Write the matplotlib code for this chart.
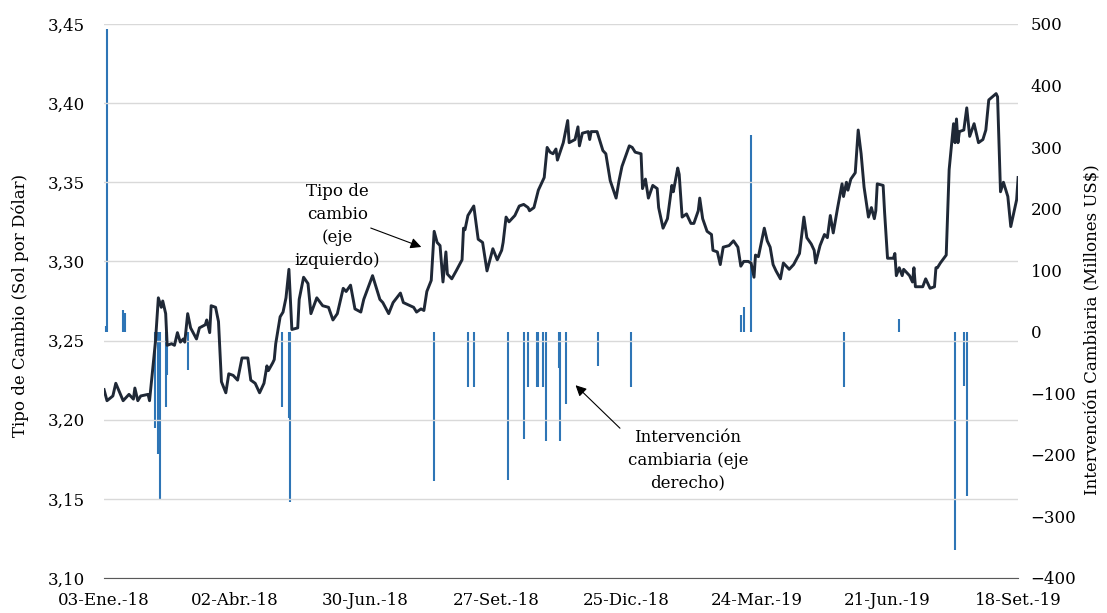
import matplotlib.pyplot as plt
import matplotlib.ticker as mticker
import numpy as np
import pandas as pd

# Tipo de cambio (eje izquierdo)
tc_fechas = [
    '2018-01-03', '2018-01-05', '2018-01-09', '2018-01-11', '2018-01-16', '2018-01-20',
    '2018-01-23', '2018-01-24', '2018-01-26', '2018-01-28', '2018-02-02', '2018-02-03',
    '2018-02-07', '2018-02-09', '2018-02-11', '2018-02-12', '2018-02-14', '2018-02-15',
    '2018-02-18', '2018-02-20', '2018-02-22', '2018-02-24', '2018-02-26', '2018-02-27',
    '2018-03-01', '2018-03-03', '2018-03-07', '2018-03-09', '2018-03-13', '2018-03-14',
    '2018-03-16', '2018-03-17', '2018-03-20', '2018-03-22', '2018-03-24', '2018-03-27',
    '2018-03-29', '2018-04-01', '2018-04-04', '2018-04-07', '2018-04-11', '2018-04-13',
    '2018-04-16', '2018-04-19', '2018-04-22', '2018-04-24', '2018-04-25', '2018-04-28',
    '2018-04-29', '2018-04-30', '2018-05-03', '2018-05-05', '2018-05-07', '2018-05-09',
    '2018-05-11', '2018-05-15', '2018-05-16', '2018-05-19', '2018-05-22', '2018-05-24',
    '2018-05-28', '2018-06-01', '2018-06-05', '2018-06-08', '2018-06-11', '2018-06-15',
    '2018-06-17', '2018-06-20', '2018-06-23', '2018-06-27', '2018-06-29', '2018-07-05',
    '2018-07-10', '2018-07-12', '2018-07-16', '2018-07-19', '2018-07-24', '2018-07-26',
    '2018-08-02', '2018-08-04', '2018-08-07', '2018-08-09', '2018-08-11', '2018-08-14',
    '2018-08-16', '2018-08-18', '2018-08-20', '2018-08-22', '2018-08-24', '2018-08-25',
    '2018-08-28', '2018-08-31', '2018-09-04', '2018-09-05', '2018-09-06', '2018-09-08',
    '2018-09-12', '2018-09-15', '2018-09-18', '2018-09-21', '2018-09-25', '2018-09-28',
    '2018-10-01', '2018-10-02', '2018-10-04', '2018-10-06', '2018-10-10', '2018-10-13',
    '2018-10-16', '2018-10-19', '2018-10-20', '2018-10-23', '2018-10-26', '2018-10-30',
    '2018-11-01', '2018-11-03', '2018-11-05', '2018-11-07', '2018-11-08', '2018-11-12',
    '2018-11-15', '2018-11-16', '2018-11-20', '2018-11-22', '2018-11-23', '2018-11-25',
    '2018-11-29', '2018-11-30', '2018-12-01', '2018-12-05', '2018-12-09', '2018-12-11',
    '2018-12-14', '2018-12-18', '2018-12-20', '2018-12-22', '2018-12-27', '2018-12-29',
    '2018-12-31', '2019-01-04', '2019-01-05', '2019-01-07', '2019-01-09', '2019-01-12',
    '2019-01-15', '2019-01-16', '2019-01-19', '2019-01-22', '2019-01-25', '2019-01-26',
    '2019-01-29', '2019-01-30', '2019-02-01', '2019-02-04', '2019-02-07', '2019-02-09',
    '2019-02-12', '2019-02-13', '2019-02-15', '2019-02-18', '2019-02-21', '2019-02-22',
    '2019-02-25', '2019-02-27', '2019-03-01', '2019-03-05', '2019-03-08', '2019-03-11',
    '2019-03-13', '2019-03-15', '2019-03-18', '2019-03-20', '2019-03-22', '2019-03-23',
    '2019-03-25', '2019-03-29', '2019-03-31', '2019-04-02', '2019-04-04', '2019-04-06',
    '2019-04-09', '2019-04-11', '2019-04-13', '2019-04-15', '2019-04-18', '2019-04-22',
    '2019-04-25', '2019-04-27', '2019-04-30', '2019-05-02', '2019-05-03', '2019-05-06',
    '2019-05-09', '2019-05-11', '2019-05-13', '2019-05-15', '2019-05-18', '2019-05-21',
    '2019-05-22', '2019-05-24', '2019-05-25', '2019-05-27', '2019-05-30', '2019-06-01',
    '2019-06-03', '2019-06-05', '2019-06-08', '2019-06-10', '2019-06-12', '2019-06-13',
    '2019-06-14', '2019-06-18', '2019-06-19', '2019-06-21', '2019-06-25', '2019-06-26',
    '2019-06-27', '2019-06-29', '2019-07-01', '2019-07-02', '2019-07-06', '2019-07-08',
    '2019-07-09', '2019-07-10', '2019-07-15', '2019-07-17', '2019-07-20', '2019-07-23',
    '2019-07-24', '2019-07-25', '2019-07-27', '2019-07-31', '2019-08-02', '2019-08-05',
    '2019-08-06', '2019-08-07', '2019-08-08', '2019-08-09', '2019-08-12', '2019-08-14',
    '2019-08-16', '2019-08-19', '2019-08-22', '2019-08-25', '2019-08-27', '2019-08-29',
    '2019-09-03', '2019-09-04', '2019-09-06', '2019-09-08', '2019-09-11', '2019-09-13',
    '2019-09-17', '2019-09-18',
]
tc_valores = [
    3.219, 3.212, 3.215, 3.223, 3.212, 3.216,
    3.213, 3.220, 3.212, 3.215, 3.216, 3.212,
    3.249, 3.277, 3.271, 3.275, 3.267, 3.247,
    3.248, 3.247, 3.255, 3.249, 3.251, 3.249,
    3.267, 3.258, 3.251, 3.258, 3.260, 3.263,
    3.255, 3.272, 3.271, 3.262, 3.224, 3.217,
    3.229, 3.228, 3.225, 3.239, 3.239, 3.225,
    3.223, 3.217, 3.223, 3.234, 3.231, 3.236,
    3.238, 3.248, 3.265, 3.268, 3.277, 3.295,
    3.257, 3.258, 3.276, 3.290, 3.286, 3.267,
    3.277, 3.272, 3.271, 3.263, 3.267, 3.283,
    3.281, 3.285, 3.270, 3.268, 3.276, 3.291,
    3.276, 3.274, 3.267, 3.274, 3.280, 3.274,
    3.271, 3.268, 3.270, 3.269, 3.281, 3.288,
    3.319, 3.312, 3.310, 3.287, 3.306, 3.292,
    3.289, 3.294, 3.301, 3.321, 3.320, 3.329,
    3.335, 3.314, 3.312, 3.294, 3.308, 3.301,
    3.307, 3.312, 3.328, 3.325, 3.329, 3.335,
    3.336, 3.334, 3.332, 3.334, 3.345, 3.353,
    3.372, 3.369, 3.368, 3.371, 3.364, 3.375,
    3.389, 3.375, 3.377, 3.385, 3.373, 3.381,
    3.382, 3.377, 3.382, 3.382, 3.370, 3.368,
    3.351, 3.340, 3.351, 3.360, 3.373, 3.372,
    3.369, 3.368, 3.346, 3.352, 3.340, 3.348,
    3.346, 3.334, 3.321, 3.327, 3.348, 3.344,
    3.359, 3.355, 3.328, 3.330, 3.324, 3.324,
    3.332, 3.340, 3.327, 3.319, 3.317, 3.307,
    3.306, 3.298, 3.309, 3.310, 3.313, 3.309,
    3.297, 3.300, 3.300, 3.299, 3.290, 3.304,
    3.303, 3.321, 3.313, 3.309, 3.298, 3.294,
    3.289, 3.299, 3.297, 3.295, 3.298, 3.305,
    3.328, 3.315, 3.311, 3.307, 3.299, 3.310,
    3.317, 3.315, 3.329, 3.318, 3.334, 3.349,
    3.341, 3.350, 3.345, 3.352, 3.356, 3.383,
    3.368, 3.347, 3.328, 3.334, 3.327, 3.332,
    3.349, 3.348, 3.331, 3.302, 3.302, 3.305,
    3.291, 3.296, 3.291, 3.295, 3.291, 3.287,
    3.296, 3.284, 3.284, 3.289, 3.283, 3.284,
    3.296, 3.296, 3.299, 3.304, 3.358, 3.387,
    3.375, 3.390, 3.375, 3.382, 3.383, 3.397,
    3.379, 3.387, 3.375, 3.377, 3.383, 3.402,
    3.406, 3.404, 3.344, 3.350, 3.341, 3.322,
    3.339, 3.353,
]

# Intervencion cambiaria (eje derecho, millones US$)
int_fechas = [
    '2018-01-04', '2018-01-05', '2018-01-16', '2018-01-17',
    '2018-02-07', '2018-02-09', '2018-02-10', '2018-02-14', '2018-02-15', '2018-03-01',
    '2018-05-04', '2018-05-09', '2018-05-10', '2018-08-16', '2018-09-08', '2018-09-12',
    '2018-10-05', '2018-10-16', '2018-10-19', '2018-10-25', '2018-10-26', '2018-10-29',
    '2018-10-31', '2018-11-09', '2018-11-10', '2018-11-14', '2018-12-06', '2018-12-28',
    '2019-03-13', '2019-03-15', '2019-03-20', '2019-05-22', '2019-06-29',
    '2019-08-06', '2019-08-12', '2019-08-14',
]
int_montos = [
    10, 492, 35, 30,
    -156, -198, -271, -122, -71, -62,
    -122, -140, -276, -243, -89, -89,
    -240, -175, -89, -89, -89, -89,
    -178, -59, -178, -118, -56, -89,
    28, 40, 320, -89, 21,
    -354, -88, -266,
]

tick_fechas = ['2018-01-03', '2018-04-02', '2018-06-30', '2018-09-27',
               '2018-12-25', '2019-03-24', '2019-06-21', '2019-09-18']
tick_etiquetas = ['03-Ene.-18', '02-Abr.-18', '30-Jun.-18', '27-Set.-18',
                  '25-Dic.-18', '24-Mar.-19', '21-Jun.-19', '18-Set.-19']

plt.rcParams['font.family'] = 'DejaVu Serif'
plt.rcParams['font.size'] = 12

fig = plt.figure(figsize=(11.07, 6.13), dpi=100)
ax = fig.add_axes([0.094, 0.0571, 0.8257, 0.9038])
ax2 = ax.twinx()
ax.set_zorder(ax2.get_zorder() + 1)
ax.patch.set_visible(False)

# barras de intervencion (barras finas de ancho fijo)
ax2.vlines(pd.to_datetime(int_fechas), 0, int_montos, color='#2E75B6', lw=1.5)
ax2.set_ylim(-400, 500)
ax2.set_yticks(np.arange(-400, 501, 100))

# linea del tipo de cambio
ax.plot(pd.to_datetime(tc_fechas), tc_valores, color='#1f2836', lw=2.1)
ax.set_ylim(3.10, 3.45)
ax.set_yticks(np.arange(3.10, 3.451, 0.05))
ax.yaxis.set_major_formatter(mticker.FuncFormatter(lambda v, p: f'{v:.2f}'.replace('.', ',')))
ax.yaxis.grid(True, color='#d9d9d9', lw=1)
ax.set_axisbelow(True)

ax.set_xlim(pd.Timestamp(tick_fechas[0]), pd.Timestamp(tick_fechas[-1]))
ax.set_xticks(pd.to_datetime(tick_fechas))
ax.set_xticklabels(tick_etiquetas)

for a in (ax, ax2):
    for s in ('top', 'left', 'right'):
        a.spines[s].set_visible(False)
ax2.spines['bottom'].set_visible(False)
ax.spines['bottom'].set_color('#595959')
ax.tick_params(axis='both', length=0, labelsize=12)
ax.tick_params(axis='y', pad=14)
ax.tick_params(axis='x', pad=10)
ax2.tick_params(axis='y', length=0, labelsize=12, pad=9)

fig.text(20 / 1107, 1 - 305 / 613, 'Tipo de Cambio (Sol por Dólar)', rotation=90,
         ha='center', va='center', fontsize=12)
fig.text(1093 / 1107, 1 - 330 / 613, 'Intervención Cambiaria (Millones US$)', rotation=90,
         ha='center', va='center', fontsize=12)

# anotaciones
ax.text(pd.Timestamp('2018-06-11'), 3.3223, 'Tipo de\ncambio\n(eje\nizquierdo)',
        ha='center', va='center', fontsize=12, linespacing=1.45)
ax.annotate('', xy=(pd.Timestamp('2018-08-09'), 3.3085), xytext=(pd.Timestamp('2018-07-02'), 3.3217),
            arrowprops=dict(arrowstyle='-|>', color='black', lw=0.8, mutation_scale=16))
ax.text(pd.Timestamp('2019-02-05'), 3.1744, 'Intervención\ncambiaria (eje\nderecho)',
        ha='center', va='center', fontsize=12, linespacing=1.45)
ax.annotate('', xy=(pd.Timestamp('2018-11-19'), 3.223), xytext=(pd.Timestamp('2018-12-22'), 3.1934),
            arrowprops=dict(arrowstyle='-|>', color='black', lw=0.8, mutation_scale=16))

fig.savefig('out.png', dpi=100)
